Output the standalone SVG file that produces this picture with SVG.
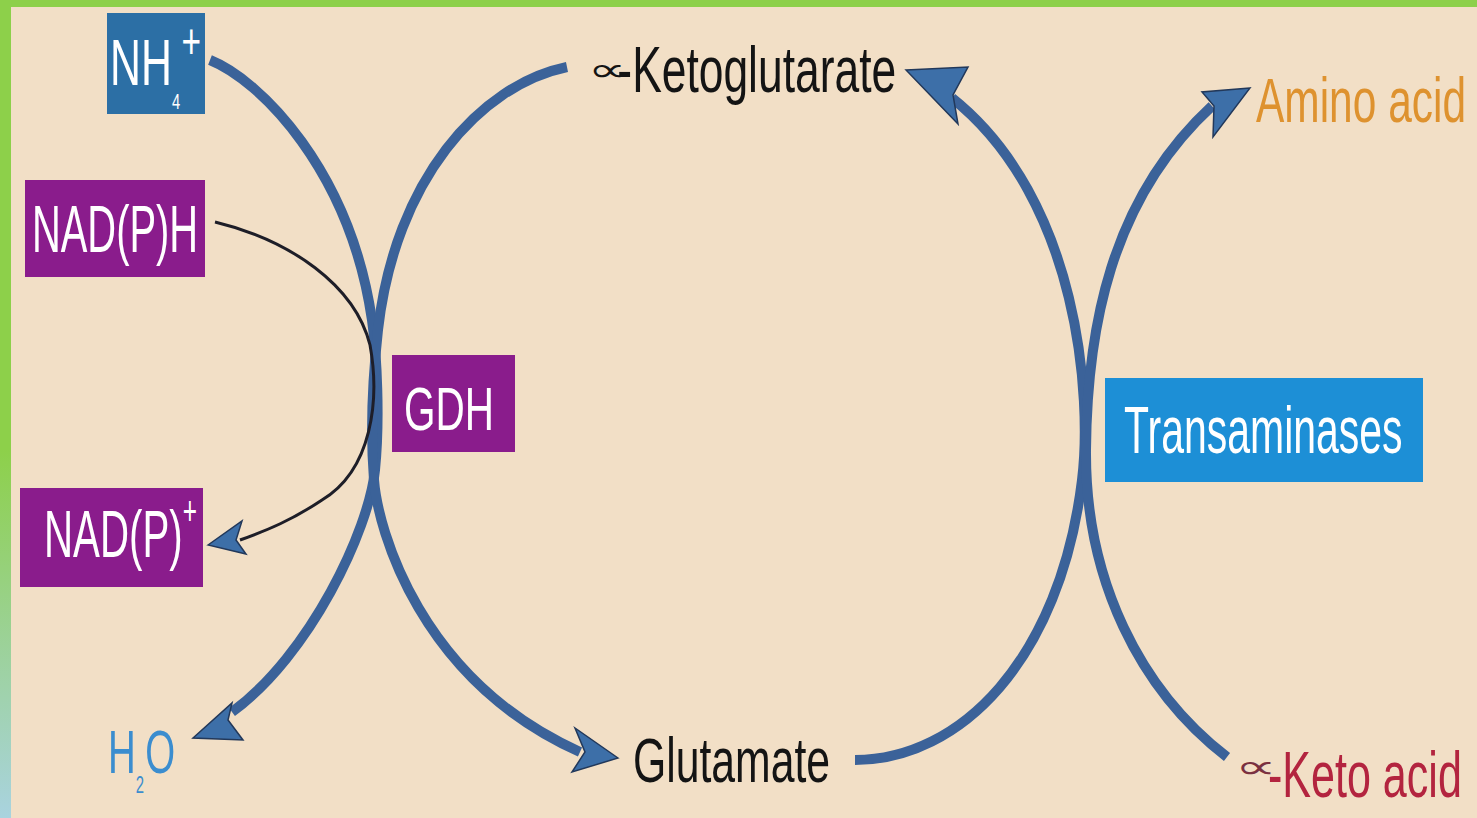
<svg xmlns="http://www.w3.org/2000/svg" width="1477" height="818" viewBox="0 0 1477 818">
<defs>
<linearGradient id="leftbar" x1="0" y1="0" x2="0" y2="1">
<stop offset="0" stop-color="#8dd04a"/>
<stop offset="0.55" stop-color="#8dd04a"/>
<stop offset="1" stop-color="#a9d3df"/>
</linearGradient>
<style>
.txt{font-family:"Liberation Sans",Arial,"DejaVu Sans",sans-serif;}
.sym{font-family:"DejaVu Sans","Liberation Sans",sans-serif;}
.box-purple{fill:#8a1c8c;}
.box-blue{fill:#2c6fa5;}
.box-cyan{fill:#1d8fd6;}
.white{fill:#ffffff;}
.thick{fill:none;stroke:#3b6299;stroke-width:10;stroke-linecap:butt;}
.thin{fill:none;stroke:#1e1e28;stroke-width:3;}
.head{fill:#3d6fa8;stroke:#22385a;stroke-width:1.5;stroke-linejoin:miter;}
</style>
</defs>
<rect x="0" y="0" width="1477" height="818" fill="#f2dfc6"/>
<rect x="0" y="0" width="1477" height="7" fill="#8dd04a"/>
<rect x="0" y="0" width="11" height="818" fill="url(#leftbar)"/>

<g id="connectors">
<path class="thick" d="M210,60 C260,80 350,170 372,320 C377,355 380,420 375,470 C369,530 310,655 232,712"/>
<polygon class="head" points="193,738 232,703 228,720 243,740"/>
<path class="thick" d="M567,67 C480,85 395,180 378,330 C373,375 370,430 374,480 C378,530 420,680 580,752"/>
<polygon class="head" points="618,758 575,728 585,752 572,772"/>
<path class="thin" d="M215,222 C290,240 355,285 370,345 C380,400 372,470 322,500 C292,520 268,530 240,540"/>
<polygon class="head" points="208,545 242,521 236,540 246,554"/>
<path class="thick" d="M855,760 C960,760 1060,660 1082,480 C1092,400 1080,200 952,98"/>
<polygon class="head" points="906,70 968,67 953,95 958,124"/>
<path class="thick" d="M1227,757 C1140,690 1085,580 1086,450 C1087,330 1110,200 1212,106"/>
<polygon class="head" points="1250,88 1202,92 1214,106 1213,137"/>
</g>

<g id="node-nh4">
<rect class="box-blue" x="107" y="13" width="98" height="101"/>
<text class="txt white" font-size="64" transform="translate(110,85) scale(0.67,1)">NH<tspan font-size="22" dy="24">4</tspan><tspan font-size="50" dy="-51" dx="2">+</tspan></text>
</g>

<g id="node-nadph">
<rect class="box-purple" x="25" y="180" width="180" height="97"/>
<text class="txt white" font-size="66" transform="translate(32,252) scale(0.604,1)">NAD(P)H</text>
</g>

<g id="node-nadp">
<rect class="box-purple" x="20" y="488" width="183" height="99"/>
<text class="txt white" font-size="66" transform="translate(44,557) scale(0.61,1)">NAD(P)<tspan font-size="40" dy="-32">+</tspan></text>
</g>

<g id="node-gdh">
<rect class="box-purple" x="392" y="355" width="123" height="97"/>
<text class="txt white" font-size="62" transform="translate(404,430) scale(0.653,1)">GDH</text>
</g>

<g id="node-transaminases">
<rect class="box-cyan" x="1105" y="378" width="318" height="104"/>
<text class="txt white" font-size="66" transform="translate(1124,453) scale(0.621,1)">Transaminases</text>
</g>

<g id="node-akg">
<text class="txt" font-size="65" fill="#141414" transform="translate(588,92) scale(0.683,1)"><tspan class="sym" font-size="33" dy="-11" textLength="56" lengthAdjust="spacingAndGlyphs">∝</tspan><tspan dy="11" dx="-13">-Ketoglutarate</tspan></text>
</g>

<g id="node-glutamate">
<text class="txt" font-size="63" fill="#141414" transform="translate(633,782) scale(0.678,1)">Glutamate</text>
</g>

<g id="node-amino">
<text class="txt" font-size="63" fill="#de922f" transform="translate(1256,122) scale(0.674,1)">Amino acid</text>
</g>

<g id="node-ketoacid">
<text class="txt" font-size="64" fill="#b3243f" transform="translate(1235,797) scale(0.673,1)"><tspan class="sym" font-size="33" dy="-19" fill="#7a3040" textLength="62" lengthAdjust="spacingAndGlyphs">∝</tspan><tspan dy="19" dx="-13">-Keto acid</tspan></text>
</g>

<g id="node-h2o">
<text class="txt" font-size="62" fill="#3b8dcf" transform="translate(108,773) scale(0.62,1)">H<tspan font-size="24" dy="20">2</tspan><tspan dy="-20" dx="2">O</tspan></text>
</g>
</svg>
